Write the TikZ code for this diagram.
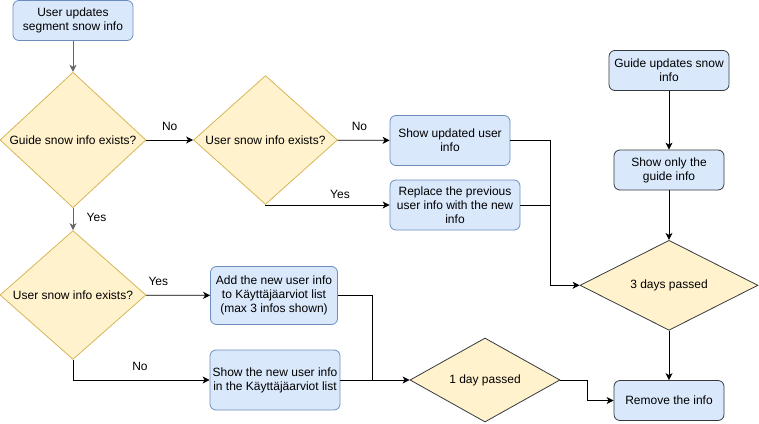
\documentclass[tikz,border=0pt]{standalone}
\usepackage{fontspec}
\setmainfont{Liberation Sans}
\usepackage{tikz}
\usetikzlibrary{shapes.geometric,arrows.meta}
\definecolor{boxfill}{HTML}{DAE8FC}
\definecolor{boxline}{HTML}{6C8EBF}
\definecolor{askfill}{HTML}{FFF2CC}
\definecolor{askline}{HTML}{D6B656}
\definecolor{darkline}{HTML}{36393D}
\definecolor{grayline}{HTML}{666666}
\tikzset{
  userbox/.style={draw=boxline,fill=boxfill,rounded corners=6pt,align=center,inner sep=0pt},
  guidebox/.style={userbox,draw=darkline},
  ask/.style={diamond,draw=askline,fill=askfill,inner sep=0pt,align=center},
  timer/.style={ask,draw=darkline},
}

\begin{document}
\begin{tikzpicture}[x=1pt,y=-1pt,font=\fontsize{12}{14}\selectfont,
  >={Stealth[length=7pt,width=7pt,inset=2pt]},line width=0.8pt]
\useasboundingbox (0,0) rectangle (759,423);

\node[userbox,minimum width=120pt,minimum height=40pt] (A) at (73,20.5) {User updates\\segment snow info};
\node[ask,minimum width=146pt,minimum height=110pt] (B) at (73,140) {Guide snow info exists?};
\node[ask,minimum width=144pt,minimum height=110pt] (C) at (265.5,140) {User snow info exists?};
\node[userbox,minimum width=120pt,minimum height=50pt] (D) at (450,140.5) {Show updated user\\info};
\node[userbox,minimum width=130pt,minimum height=50pt] (E) at (455,205) {Replace the previous\\user info with the new\\info};
\node[ask,minimum width=146pt,minimum height=110pt] (F) at (73,295) {User snow info exists?};
\node[userbox,minimum width=127pt,minimum height=58pt] (G) at (274,295.5) {Add the new user info\\to Käyttäjäarviot list\\(max 3 infos shown)};
\node[userbox,minimum width=130pt,minimum height=60pt] (H) at (275,380) {Show the new user info\\in the Käyttäjäarviot list};
\node[timer,minimum width=150pt,minimum height=84pt] (I) at (485,380) {1 day passed};
\node[guidebox,minimum width=120pt,minimum height=40pt] (J) at (669,70.5) {Guide updates snow\\info};
\node[guidebox,minimum width=110pt,minimum height=40pt] (K) at (669,170) {Show only the\\guide info};
\node[timer,minimum width=178pt,minimum height=90pt] (L) at (669,285.3) {3 days passed};
\node[guidebox,minimum width=110pt,minimum height=40pt] (M) at (669,400.5) {Remove the info};

\coordinate (J1) at (550.3,140.5);
\coordinate (J2) at (372.7,295.5);
\coordinate (J3) at (587.3,380);

\draw[->,draw=grayline] (A) to (B);
\draw[->] (B) to node[pos=0.5,above=6pt] {No} (C);
\draw[->] (C) to node[pos=0.42,above=6pt] {No} (D);
\draw[->] (C.south) |- node[pos=0.8,above=3pt] {Yes} (E);
\draw[->,draw=grayline] (B) to node[pos=0.42,right=10pt] {Yes} (F);
\draw[->] (F) to node[pos=0.19,above=6pt] {Yes} (G);
\draw[->] (F.south) |- node[pos=0.745,above=6pt] {No} (H);
\draw[->] (D) -- (J1) |- (L);
\draw (E) -- (E -| J1);
\draw[->] (G) -- (J2) |- (I);
\draw (H) -- (H -| J2);
\draw[->] (I) -- (J3) |- (M);
\draw[->] (J) to (K);
\draw[->] (K) to (L);
\draw[->] (L) to (M);

\end{tikzpicture}
\end{document}
